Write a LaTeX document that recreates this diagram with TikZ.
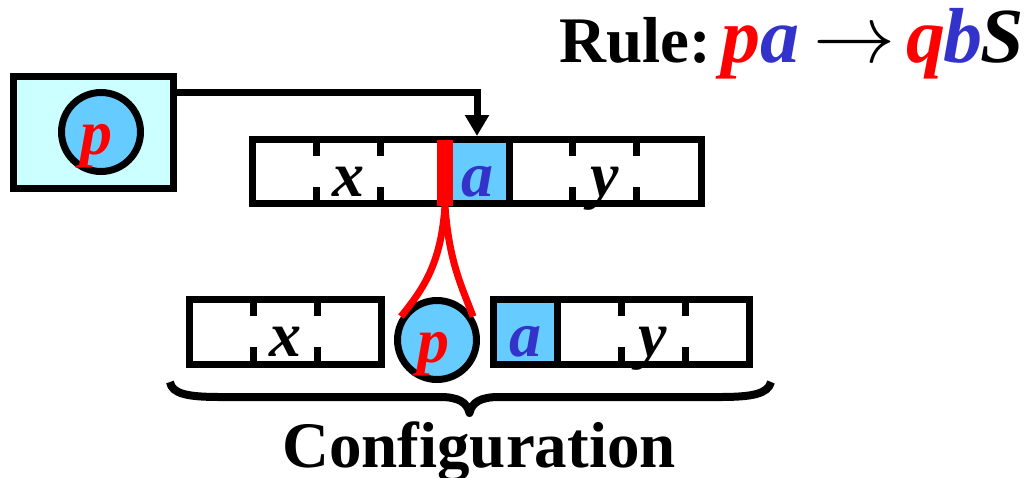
\documentclass[tikz,border=0pt]{standalone}
\usepackage{graphicx}
\usepackage{fontspec}
\setmainfont{Liberation Serif}
\usetikzlibrary{arrows.meta,calc}
\definecolor{boxcyan}{HTML}{CCFFFF}
\definecolor{cellblue}{HTML}{66CCFF}
\definecolor{symred}{HTML}{FF0000}
\definecolor{symblue}{HTML}{3333CC}
\tikzset{
  frame/.style={draw=black,line width=7pt,inner sep=0pt},
  cellfill/.style={fill=cellblue,inner sep=0pt,outer sep=0pt,minimum width=64pt,minimum height=60pt},
  tick/.style={draw=black,line width=7pt},
  divider/.style={draw=black,line width=7pt},
  statecirc/.style={circle,draw=black,line width=7pt,fill=cellblue,minimum size=79pt,inner sep=0pt},
  lbl/.style={font=\fontsize{64}{70}\selectfont\bfseries\itshape,inner sep=0pt,anchor=base},
  bigtext/.style={font=\fontsize{65}{72}\selectfont\bfseries,inner sep=0pt,anchor=base},
  conn/.style={draw=black,line width=7pt,-{Triangle[width=23pt,length=21pt]}},
  redline/.style={draw=symred,line width=7pt},
}
\begin{document}
\begin{tikzpicture}[x=1pt,y=-1pt]
\useasboundingbox (0,0) rectangle (1028,477);

% rule text
\node[bigtext,anchor=base west] (rule) at (559,62)
  {Rule:\kern11pt{\fontsize{78}{80}\selectfont\itshape\textcolor{symred}{p}\textcolor{symblue}{a}\kern14pt\scalebox{8.2}{\fontsize{10}{12}\selectfont$\rightarrow$}\kern11pt\textcolor{symred}{q}\kern-2pt\textcolor{symblue}{b}\kern-2pt S}};

% state box
\node[frame,fill=boxcyan,minimum width=160pt,minimum height=112pt] (statebox) at (93,132) {};
\node[statecirc] (pc1) at (101,132) {};
\node[lbl,text=symred] (p1) at (96,154) {p};

% top tape
\node[cellfill] (acell1) at (477,171.5) {};
\node[frame,minimum width=449pt,minimum height=64pt] (tape1) at (477,171.5) {};
\draw[divider] (509,139.5) -- (509,203.5);
\foreach \x in {316.7,380.7,572.7,636.7}{
  \draw[tick] (\x,139.5) -- (\x,156);
  \draw[tick] (\x,187) -- (\x,203.5);
}
\node[fill=symred,inner sep=0pt,outer sep=0pt,minimum width=16pt,minimum height=66pt] (head) at (445,173) {};
\node[lbl] (x1) at (348.7,196) {x};
\node[lbl,text=symblue] (a1) at (477,196) {a};
\node[lbl] (y1) at (604.7,196) {y};

% arrow from state to head
\draw[conn] ([yshift=-19.5pt]statebox.north east) -| (tape1.north);

% bottom configuration
\node[frame,minimum width=192pt,minimum height=64.5pt] (tapeL) at (285,331.75) {};
\foreach \x in {253,317}{
  \draw[tick] (\x,299.5) -- (\x,316);
  \draw[tick] (\x,347) -- (\x,364);
}
\node[lbl] (x2) at (285,356) {x};

\node[cellfill] (acell2) at (525,331.75) {};
\node[frame,minimum width=256pt,minimum height=64.5pt] (tapeR) at (621,331.75) {};
\draw[divider] (557,299.5) -- (557,364);
\foreach \x in {621,685}{
  \draw[tick] (\x,299.5) -- (\x,316);
  \draw[tick] (\x,347) -- (\x,364);
}
\node[lbl,text=symblue] (a2) at (525,356) {a};
\node[lbl] (y2) at (653,356) {y};

\node[statecirc] (pc2) at (437,340) {};
\node[lbl,text=symred] (p2) at (433,362) {p};

% red split lines
\draw[redline] (head.south) .. controls (441,262) and (425,287) .. (pc2.147);
\draw[redline] (head.south) .. controls (449,262) and (462,287) .. (pc2.33);

% brace
\draw[line width=8pt,line join=round] (170,382) .. controls (172,394) and (188,397) .. (220,397)
  -- (440,397) .. controls (458,397) and (467,402) .. (469.5,413)
  .. controls (472,402) and (481,397) .. (499,397)
  -- (720,397) .. controls (752,397) and (768,394) .. (771,382);

\node[bigtext] (config) at (479,467) {Configuration};
\end{tikzpicture}
\end{document}
